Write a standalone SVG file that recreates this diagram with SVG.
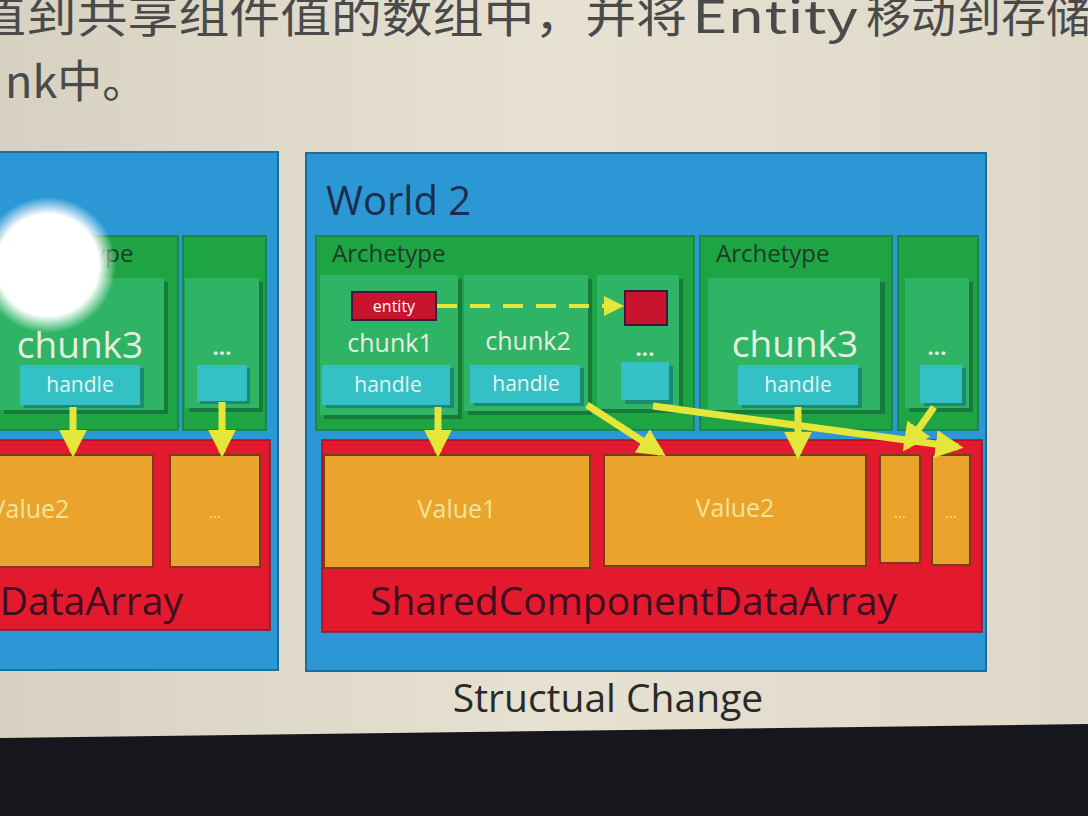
<svg xmlns="http://www.w3.org/2000/svg" width="1088" height="816" viewBox="0 0 1088 816">
<defs>
<linearGradient id="bg" x1="0" y1="0" x2="1" y2="0">
<stop offset="0" stop-color="#d6d1c0"/><stop offset="0.5" stop-color="#e6e1d1"/><stop offset="1" stop-color="#ddd8c8"/>
</linearGradient>
<radialGradient id="glare" cx="0.5" cy="0.5" r="0.5">
<stop offset="0" stop-color="#ffffff"/><stop offset="0.75" stop-color="#ffffff"/><stop offset="1" stop-color="#ffffff" stop-opacity="0"/>
</radialGradient>
<marker id="ah" viewBox="0 0 10 10" refX="8" refY="5" markerWidth="4" markerHeight="4" orient="auto">
<path d="M0,0 L10,5 L0,10 z" fill="#e4e63a"/>
</marker>
<marker id="ahs" viewBox="0 0 10 10" refX="8" refY="5" markerWidth="5" markerHeight="5" orient="auto">
<path d="M0,0 L10,5 L0,10 z" fill="#e4e63a"/>
</marker>
<style>
.world{fill:#2b98d5;stroke:#1d6c9c;stroke-width:2}
.arch{fill:#1fa444;stroke:#1a7f3a;stroke-width:1.5}
.chunk{fill:#2fb466}
.shadow{fill:#157a3a}
.handle{fill:#33c1c5}
.hshadow{fill:#1b8a70}
.red{fill:#e3192e;stroke:#a5101f;stroke-width:1.5}
.val{fill:#eaa32b;stroke:#7a3a1f;stroke-width:2}
.ent{fill:#c8142c;stroke:#3a1a40;stroke-width:2}
.t{font-family:"Segoe UI","Open Sans","Noto Sans",sans-serif}
.arT{font-size:24px;fill:#1d3a2a}
.ck{font-size:25px;fill:#e6efe0;text-anchor:middle}
.big{font-size:37px}
.hd{font-size:21px;fill:#e6f4ef;text-anchor:middle}
.vl{font-size:25px;fill:#f1e49c;text-anchor:middle}
.sm{font-size:15px}
.dots{font-size:22px;fill:#e6efe0;text-anchor:middle;font-weight:bold}
.sc{font-size:39px;fill:#3a0f1e}
.yl{stroke:#e4e63a;stroke-width:7;fill:none}
.top{font-family:"Noto Sans CJK SC","Noto Sans",sans-serif;font-size:45px;fill:#4a4a4a}
</style>
</defs>
<rect x="0" y="0" width="1088" height="816" fill="url(#bg)"/>
<polygon points="0,738 1088,724 1088,816 0,816" fill="#17161d"/>
<g id="caption">
<text class="top" x="-25" y="33" textLength="712" lengthAdjust="spacingAndGlyphs">值到共享组件值的数组中，并将</text>
<text class="top" x="692" y="33" textLength="166" lengthAdjust="spacingAndGlyphs">Entity</text>
<text class="top" x="866" y="33" textLength="225" lengthAdjust="spacingAndGlyphs">移动到存储</text>
<text class="top" x="5" y="98">nk中。</text>
</g>

<g id="world1">
<rect class="world" x="-10" y="152" width="288" height="518"/>
<rect class="arch" x="-6" y="236" width="184" height="194"/>
<text class="t arT" x="20" y="262">Archetype</text>
<rect class="shadow" x="4" y="282" width="164" height="132"/>
<rect class="chunk" x="-2" y="278" width="166" height="132"/>
<text class="t ck big" x="80" y="358">chunk3</text>
<rect class="hshadow" x="24" y="368" width="120" height="40"/>
<rect class="handle" x="20" y="365" width="120" height="40"/>
<text class="t hd" x="80" y="392">handle</text>
<rect class="arch" x="183" y="236" width="83" height="194"/>
<rect class="shadow" x="189" y="282" width="74" height="130"/>
<rect class="chunk" x="185" y="278" width="74" height="130"/>
<text class="t dots" x="222" y="355">...</text>
<rect class="hshadow" x="200" y="368" width="50" height="36"/>
<rect class="handle" x="197" y="365" width="50" height="36"/>
<rect class="red" x="-6" y="440" width="276" height="190"/>
<rect class="val" x="-6" y="455" width="159" height="112"/>
<text class="t vl" x="30" y="518">Value2</text>
<rect class="val" x="170" y="455" width="90" height="112"/>
<text class="t vl sm" x="215" y="518">...</text>
<text class="t sc" x="183" y="615" text-anchor="end">SharedComponentDataArray</text>
<circle cx="48" cy="265" r="68" fill="url(#glare)"/>
</g>

<g id="world2">
<rect class="world" x="306" y="153" width="680" height="518"/>
<text class="t" x="326" y="215" font-size="40" fill="#1c2e4d">World 2</text>
</g>

<g id="archetype1">
<rect class="arch" x="316" y="236" width="378" height="194"/>
<text class="t arT" x="332" y="262">Archetype</text>
</g>
<g id="chunk1">
<rect class="shadow" x="324" y="279" width="138" height="140"/>
<rect class="chunk" x="320" y="275" width="138" height="140"/>
<text class="t ck" x="390" y="352">chunk1</text>
<rect class="hshadow" x="326" y="368" width="128" height="40"/>
<rect class="handle" x="322" y="365" width="128" height="40"/>
<text class="t hd" x="388" y="392">handle</text>
</g>
<g id="entity">
<rect class="ent" x="352" y="292" width="84" height="28"/>
<text class="t" x="394" y="312" font-size="16" fill="#ffffff" text-anchor="middle">entity</text>
</g>
<g id="chunk2">
<rect class="shadow" x="468" y="279" width="124" height="136"/>
<rect class="chunk" x="464" y="275" width="124" height="136"/>
<text class="t ck" x="528" y="350">chunk2</text>
<rect class="hshadow" x="474" y="368" width="110" height="38"/>
<rect class="handle" x="470" y="365" width="110" height="38"/>
<text class="t hd" x="526" y="391">handle</text>
</g>
<g id="chunkDots1">
<rect class="shadow" x="601" y="279" width="82" height="134"/>
<rect class="chunk" x="597" y="275" width="82" height="134"/>
<rect class="ent" x="625" y="291" width="42" height="34"/>
<text class="t dots" x="645" y="356">...</text>
<rect class="hshadow" x="625" y="366" width="48" height="38"/>
<rect class="handle" x="621" y="362" width="48" height="38"/>
</g>

<g id="archetype2">
<rect class="arch" x="700" y="236" width="192" height="194"/>
<text class="t arT" x="716" y="262">Archetype</text>
</g>
<g id="chunk3">
<rect class="shadow" x="713" y="282" width="172" height="132"/>
<rect class="chunk" x="708" y="278" width="172" height="132"/>
<text class="t ck big" x="795" y="357">chunk3</text>
<rect class="hshadow" x="742" y="368" width="120" height="40"/>
<rect class="handle" x="738" y="365" width="120" height="40"/>
<text class="t hd" x="798" y="392">handle</text>
</g>
<g id="archetype3">
<rect class="arch" x="898" y="236" width="80" height="194"/>
<rect class="shadow" x="909" y="282" width="64" height="130"/>
<rect class="chunk" x="905" y="278" width="64" height="130"/>
<text class="t dots" x="937" y="355">...</text>
<rect class="hshadow" x="924" y="368" width="42" height="38"/>
<rect class="handle" x="920" y="365" width="42" height="38"/>
</g>

<g id="sharedArray">
<rect class="red" x="322" y="440" width="660" height="192"/>
<text class="t sc" x="370" y="615">SharedComponentDataArray</text>
</g>
<g id="value1">
<rect class="val" x="324" y="455" width="266" height="113"/>
<text class="t vl" x="457" y="518">Value1</text>
</g>
<g id="value2">
<rect class="val" x="604" y="455" width="262" height="111"/>
<text class="t vl" x="735" y="517">Value2</text>
</g>
<g id="value3">
<rect class="val" x="880" y="455" width="40" height="108"/>
<text class="t vl sm" x="900" y="518">...</text>
</g>
<g id="value4">
<rect class="val" x="932" y="455" width="38" height="110"/>
<text class="t vl sm" x="951" y="518">...</text>
</g>

<text class="t" x="608" y="712" font-size="39" fill="#2a2a2a" text-anchor="middle">Structual Change</text>

<g id="connectors">
<line class="yl" x1="73" y1="407" x2="73" y2="452" marker-end="url(#ah)"/>
<line class="yl" x1="222" y1="402" x2="222" y2="452" marker-end="url(#ah)"/>
<line x1="437" y1="306" x2="620" y2="306" stroke="#e4e63a" stroke-width="4" stroke-dasharray="20 13" marker-end="url(#ahs)"/>
<line class="yl" x1="438" y1="407" x2="438" y2="452" marker-end="url(#ah)"/>
<line class="yl" x1="587" y1="405" x2="661" y2="453" marker-end="url(#ah)"/>
<line class="yl" x1="798" y1="407" x2="798" y2="454" marker-end="url(#ah)"/>
<line class="yl" x1="653" y1="406" x2="958" y2="447" marker-end="url(#ah)"/>
<line class="yl" x1="934" y1="407" x2="906" y2="447" marker-end="url(#ah)"/>
</g>
</svg>
